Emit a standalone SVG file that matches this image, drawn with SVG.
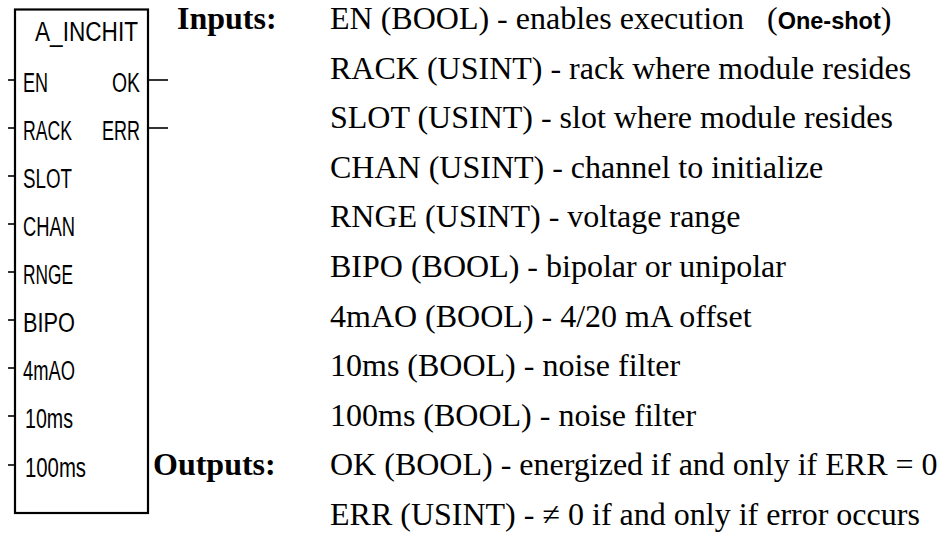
<svg xmlns="http://www.w3.org/2000/svg" width="946" height="540" viewBox="0 0 946 540">
<style>
.lbl{font-family:"Liberation Sans","DejaVu Sans",sans-serif;font-size:27px;fill:#000}
.txt{font-family:"Liberation Serif","DejaVu Serif",serif;font-size:32px;fill:#000}
.hd{font-family:"Liberation Serif","DejaVu Serif",serif;font-size:32px;font-weight:bold;fill:#000}
.sb{font-family:"Liberation Sans","DejaVu Sans",sans-serif;font-size:23.5px;font-weight:bold}
.pin{stroke:#000;stroke-width:1.6;fill:none}
.box{stroke:#000;stroke-width:2.2;fill:#fff}
</style>
<rect width="946" height="540" fill="#fff"/>
<g id="connectors">
<line class="pin" x1="8" y1="80" x2="15" y2="80"/>
<line class="pin" x1="8" y1="128" x2="15" y2="128"/>
<line class="pin" x1="8" y1="176" x2="15" y2="176"/>
<line class="pin" x1="8" y1="224" x2="15" y2="224"/>
<line class="pin" x1="8" y1="272" x2="15" y2="272"/>
<line class="pin" x1="8" y1="320" x2="15" y2="320"/>
<line class="pin" x1="8" y1="368" x2="15" y2="368"/>
<line class="pin" x1="8" y1="416" x2="15" y2="416"/>
<line class="pin" x1="8" y1="465" x2="15" y2="465"/>
<line class="pin" x1="148" y1="80" x2="168" y2="80"/>
<line class="pin" x1="148" y1="128" x2="168" y2="128"/>
</g>
<g id="block">
<rect class="box" x="15" y="9.5" width="133" height="503.5"/>
<text class="lbl" x="35" y="41" textLength="103" lengthAdjust="spacingAndGlyphs">A_INCHIT</text>
<text class="lbl" x="23" y="92" textLength="25" lengthAdjust="spacingAndGlyphs">EN</text>
<text class="lbl" x="112" y="92" textLength="28" lengthAdjust="spacingAndGlyphs">OK</text>
<text class="lbl" x="23" y="140" textLength="49" lengthAdjust="spacingAndGlyphs">RACK</text>
<text class="lbl" x="102" y="140" textLength="38" lengthAdjust="spacingAndGlyphs">ERR</text>
<text class="lbl" x="23" y="188" textLength="49" lengthAdjust="spacingAndGlyphs">SLOT</text>
<text class="lbl" x="23" y="236" textLength="52" lengthAdjust="spacingAndGlyphs">CHAN</text>
<text class="lbl" x="23" y="284" textLength="50" lengthAdjust="spacingAndGlyphs">RNGE</text>
<text class="lbl" x="23" y="332" textLength="52" lengthAdjust="spacingAndGlyphs">BIPO</text>
<text class="lbl" x="23" y="380" textLength="52" lengthAdjust="spacingAndGlyphs">4mAO</text>
<text class="lbl" x="25" y="428" textLength="48" lengthAdjust="spacingAndGlyphs">10ms</text>
<text class="lbl" x="25" y="477" textLength="61" lengthAdjust="spacingAndGlyphs">100ms</text>
</g>
<g id="inputs">
<text class="hd" x="177" y="29">Inputs:</text>
<text class="txt" x="330" y="29">EN (BOOL) - enables execution<tspan x="767">(</tspan><tspan class="sb">One-shot</tspan>)</text>
<text class="txt" x="330" y="78.6">RACK (USINT) - rack where module resides</text>
<text class="txt" x="330" y="128.2">SLOT (USINT) - slot where module resides</text>
<text class="txt" x="330" y="177.8">CHAN (USINT) - channel to initialize</text>
<text class="txt" x="330" y="227.4">RNGE (USINT) - voltage range</text>
<text class="txt" x="330" y="277">BIPO (BOOL) - bipolar or unipolar</text>
<text class="txt" x="330" y="326.6">4mAO (BOOL) - 4/20 mA offset</text>
<text class="txt" x="330" y="376.2">10ms (BOOL) - noise filter</text>
<text class="txt" x="330" y="425.8">100ms (BOOL) - noise filter</text>
</g>
<g id="outputs">
<text class="hd" x="153" y="475.4">Outputs:</text>
<text class="txt" x="330" y="475.4">OK (BOOL) - energized if and only if ERR = 0</text>
<text class="txt" x="330" y="525">ERR (USINT) - ≠ 0 if and only if error occurs</text>
</g>
</svg>
